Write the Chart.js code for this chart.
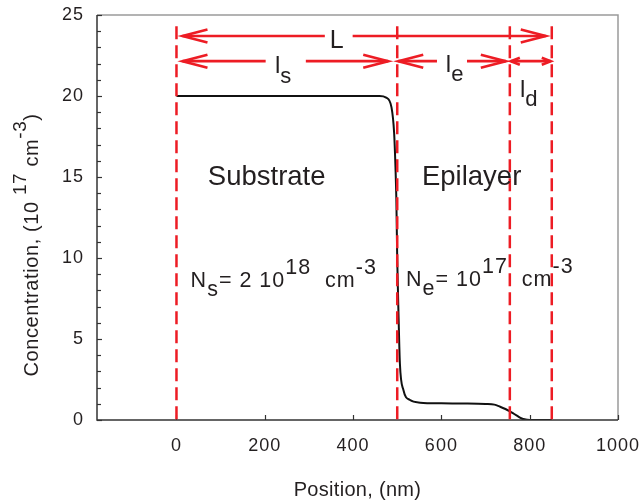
<!DOCTYPE html>
<html>
<head>
<meta charset="utf-8">
<script src="https://cdn.jsdelivr.net/npm/chart.js@4/dist/chart.umd.min.js"></script>
<style>
html,body{margin:0;padding:0;background:#fff;}
#wrap{width:641px;height:502px;}
</style>
</head>
<body>
<div id="wrap"><canvas id="c" width="641" height="502"></canvas></div>
<script>
// ---- data ----
const positionNm = [0, 100, 200, 300, 400, 460, 475, 487, 493, 496, 498, 500, 503, 506, 514, 529, 552, 600, 650, 700, 720, 733, 745, 753, 762, 771, 778, 785, 795, 800, 850];
const concentration = [20, 20, 20, 20, 20, 20, 19.9, 19.3, 17.7, 15.6, 13.6, 9.9, 6.4, 3.5, 1.85, 1.23, 1.07, 1.03, 1.02, 0.99, 0.95, 0.82, 0.68, 0.57, 0.42, 0.27, 0.15, 0.06, 0.01, 0, 0];
const xTicks = [0, 200, 400, 600, 800, 1000];
const yTicks = [0, 5, 10, 15, 20, 25];
const yMinorTicks = [1, 2, 3, 4, 6, 7, 8, 9, 11, 12, 13, 14, 16, 17, 18, 19, 21, 22, 23, 24];
const boundaries = [0, 500, 755, 850];       // substrate start, interface, epilayer end, depletion end
const dashTop = 24.3;
const regionNames = ['Substrate', 'Epilayer'];

const FONT = '"Liberation Sans", Arial, Helvetica, sans-serif';
const TXT = '#231f20';
const RED = '#ed1c24';

function richText(ctx, parts, x, y, base, align, supScale, supRaise) {
  const ss = supScale || 0.92;
  const sr = supRaise || 0.55;
  const measure = () => {
    let w = 0;
    parts.forEach(([t, m]) => {
      ctx.font = (m === 0 ? base : base * ss) + 'px ' + FONT;
      w += ctx.measureText(t).width;
    });
    return w;
  };
  let cx = x;
  if (align === 'center') cx = x - measure() / 2;
  ctx.textAlign = 'left';
  ctx.textBaseline = 'alphabetic';
  parts.forEach(([t, m]) => {
    const size = m === 0 ? base : base * ss;
    ctx.font = size + 'px ' + FONT;
    const dy = m === 1 ? -base * sr : (m === -1 ? base * 0.4 : 0);
    ctx.fillText(t, cx, y + dy);
    cx += ctx.measureText(t).width;
  });
}

function chevron(ctx, tipX, y, dir, len, half) {
  ctx.beginPath();
  ctx.moveTo(tipX + dir * len, y - half);
  ctx.lineTo(tipX, y);
  ctx.lineTo(tipX + dir * len, y + half);
  ctx.stroke();
}

function arrow(ctx, x1, x2, y, gap, len, half) {
  ctx.beginPath();
  if (gap) {
    ctx.moveTo(x1, y); ctx.lineTo(gap[0], y);
    ctx.moveTo(gap[1], y); ctx.lineTo(x2, y);
  } else {
    ctx.moveTo(x1, y); ctx.lineTo(x2, y);
  }
  ctx.stroke();
  chevron(ctx, x1, y, 1, len, half);
  chevron(ctx, x2, y, -1, len, half);
}

const deco = {
  id: 'deco',
  beforeDraw(chart) {
    chart.ctx.letterSpacing = '1px';
  },
  afterDatasetsDraw(chart) {
    const ctx = chart.ctx;
    const a = chart.chartArea;
    const x = chart.scales.x, y = chart.scales.y;
    ctx.save();
    ctx.letterSpacing = '0px';
    ctx.setLineDash([]);
    // frame
    ctx.lineWidth = 1.5;
    ctx.strokeStyle = '#9a9a9a';
    ctx.beginPath();
    ctx.moveTo(a.left, a.top); ctx.lineTo(a.right, a.top); ctx.lineTo(a.right, a.bottom);
    ctx.stroke();
    ctx.strokeStyle = '#333';
    ctx.beginPath();
    ctx.moveTo(a.left, a.top); ctx.lineTo(a.left, a.bottom); ctx.lineTo(a.right, a.bottom);
    ctx.stroke();
    // inward ticks
    ctx.lineWidth = 1.2;
    xTicks.forEach(v => {
      const px = Math.round(x.getPixelForValue(v)) + 0.5;
      ctx.beginPath(); ctx.moveTo(px, a.bottom); ctx.lineTo(px, a.bottom - 5); ctx.stroke();
    });
    yTicks.forEach(v => {
      const py = Math.round(y.getPixelForValue(v)) + 0.5;
      ctx.beginPath(); ctx.moveTo(a.left, py); ctx.lineTo(a.left + 5, py); ctx.stroke();
    });
    yMinorTicks.forEach(v => {
      const py = Math.round(y.getPixelForValue(v)) + 0.5;
      ctx.beginPath(); ctx.moveTo(a.left, py); ctx.lineTo(a.left + 4, py); ctx.stroke();
    });

    // dashed boundaries
    ctx.strokeStyle = RED;
    ctx.lineWidth = 2.5;
    ctx.setLineDash([13, 6]);
    boundaries.forEach(v => {
      const px = x.getPixelForValue(v);
      ctx.beginPath(); ctx.moveTo(px, y.getPixelForValue(dashTop)); ctx.lineTo(px, a.bottom); ctx.stroke();
    });
    ctx.setLineDash([]);

    // dimension arrows
    const b = boundaries.map(v => x.getPixelForValue(v));
    const rowL = y.getPixelForValue(23.7);
    const row2 = y.getPixelForValue(22.15);
    ctx.lineWidth = 2.6;
    ctx.lineCap = 'butt';
    arrow(ctx, b[0] + 6, b[3] - 6, rowL, [x.getPixelForValue(336), x.getPixelForValue(399)], 25, 6.5);
    arrow(ctx, b[0] + 6, b[1] - 9, row2, [x.getPixelForValue(202), x.getPixelForValue(293)], 25, 6.5);
    arrow(ctx, b[1] + 1, b[2] - 4, row2, [x.getPixelForValue(590), x.getPixelForValue(658)], 25, 6.5);
    arrow(ctx, b[2] + 1, b[3] - 1, row2, null, 9, 3.5);

    // labels
    ctx.fillStyle = TXT;
    richText(ctx, [['L', 0]], x.getPixelForValue(363), y.getPixelForValue(22.96), 25, 'center');
    richText(ctx, [['l', 0], ['s', -1]], x.getPixelForValue(223), y.getPixelForValue(21.4), 24);
    richText(ctx, [['l', 0], ['e', -1]], x.getPixelForValue(610), y.getPixelForValue(21.5), 24);
    richText(ctx, [['l', 0], ['d', -1]], x.getPixelForValue(778), y.getPixelForValue(19.95), 24);

    richText(ctx, [[regionNames[0], 0]], x.getPixelForValue(71), y.getPixelForValue(14.5), 27.5);
    richText(ctx, [[regionNames[1], 0]], x.getPixelForValue(556), y.getPixelForValue(14.5), 27.5);
    ctx.letterSpacing = '1px';
    richText(ctx, [['N', 0], ['s', -1], ['= 2 10', 0], ['18', 1], ['  cm', 0], ['-3', 1]],
      x.getPixelForValue(32), y.getPixelForValue(8.2), 21.5, null, 1.0, 0.62);
    richText(ctx, [['N', 0], ['e', -1], ['= 10', 0], ['17', 1], ['  cm', 0], ['-3', 1]],
      x.getPixelForValue(520), y.getPixelForValue(8.25), 21.5, null, 1.0, 0.62);
    ctx.letterSpacing = '0px';

    // axis titles
    ctx.letterSpacing = '0.3px';
    richText(ctx, [['Position, (nm)', 0]], (a.left + a.right) / 2, 496, 20, 'center');
    ctx.save();
    ctx.translate(37.5, 245);
    ctx.rotate(-Math.PI / 2);
    ctx.letterSpacing = '0.6px';
    richText(ctx, [['Concentration, (10 ', 0], ['17', 1], [' cm', 0], ['-3', 1], [')', 0]], 0, 0, 20, 'center', 0.95, 0.6);
    ctx.restore();

    ctx.restore();
  }
};

new Chart(document.getElementById('c'), {
  type: 'line',
  data: {
    datasets: [{
      data: positionNm.map((p, i) => ({ x: p, y: concentration[i] })),
      borderColor: '#111',
      borderWidth: 2,
      pointRadius: 0,
      fill: false,
      cubicInterpolationMode: 'monotone'
    }]
  },
  options: {
    responsive: false,
    animation: false,
    layout: { padding: { left: 0, top: 15, right: 23, bottom: 0 } },
    plugins: { legend: { display: false }, tooltip: { enabled: false } },
    scales: {
      x: {
        type: 'linear',
        min: -180, max: 1000,
        grid: { display: false, drawTicks: false },
        border: { display: false },
        afterBuildTicks: s => { s.ticks = xTicks.map(v => ({ value: v })); },
        afterFit: s => { s.height = 82; s.paddingLeft = 0; s.paddingRight = 0; },
        ticks: { font: { size: 18, family: FONT }, color: TXT, padding: 15, maxRotation: 0, autoSkip: false,
                 callback: v => String(v) }
      },
      y: {
        min: 0, max: 25,
        grid: { display: false, drawTicks: false },
        border: { display: false },
        afterBuildTicks: s => { s.ticks = yTicks.map(v => ({ value: v })); },
        afterFit: s => { s.width = 97; s.paddingTop = 0; s.paddingBottom = 0; },
        ticks: { font: { size: 18, family: FONT }, color: TXT, padding: 13, callback: v => String(v) }
      }
    }
  },
  plugins: [deco]
});
</script>
</body>
</html>
